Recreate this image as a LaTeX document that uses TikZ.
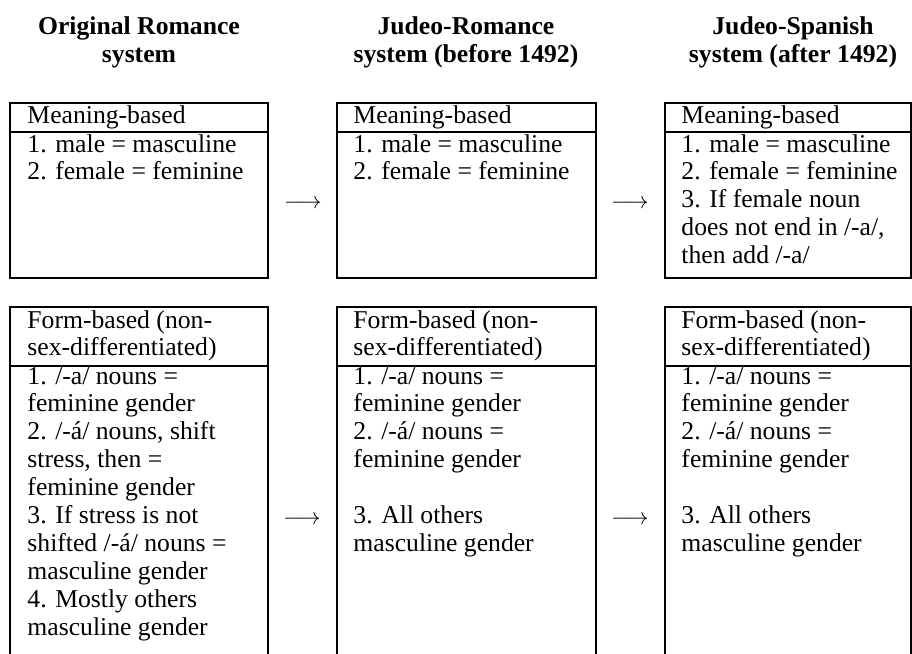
\documentclass[tikz,border=0pt]{standalone}
\usepackage{fontspec}
\setmainfont{Liberation Serif}
\newcommand{\cellrows}[1]{\begin{tabular}[t]{@{}l@{}}#1\end{tabular}}
\newcommand{\headrows}[1]{\begin{tabular}[t]{@{}c@{}}#1\end{tabular}}
\newcommand{\pxunit}{0.4286pt}
\begin{document}
\begin{tikzpicture}[x=0.4286pt,y=-0.4286pt,
  cell/.style={draw,line width=0.45pt,inner sep=0pt,outer sep=0pt,anchor=north west},
  txt/.style={anchor=base west,inner sep=0pt,font=\fontsize{11}{12}\selectfont},
  head/.style={anchor=base,inner sep=0pt,font=\fontsize{11}{12}\selectfont\bfseries},
  arr/.style={inner sep=0pt,font=\fontsize{10}{12}\selectfont},
  rule/.style={line width=0.45pt}]
\clip (0,0) rectangle (912,654);
% headings
\node[head] (h1) at (139,35) {\headrows{Original Romance\\system}};
\node[head] (h2) at (466,35) {\headrows{Judeo-Romance\\system (before 1492)}};
\node[head] (h3) at (793,35) {\headrows{Judeo-Spanish\\system (after 1492)}};
% top boxes
\node[cell,minimum width=258*\pxunit,minimum height=175*\pxunit] (t1) at (10,103) {};
\node[cell,minimum width=259*\pxunit,minimum height=175*\pxunit] (t2) at (337,103) {};
\node[cell,minimum width=246*\pxunit,minimum height=175*\pxunit] (t3) at (665,103) {};
\draw[rule] (t1.north west) ++(0,29) coordinate (t1l) -- (t1l -| t1.east);
\draw[rule] (t2.north west) ++(0,29) coordinate (t2l) -- (t2l -| t2.east);
\draw[rule] (t3.north west) ++(0,29) coordinate (t3l) -- (t3l -| t3.east);
% bottom boxes (run past the lower edge)
\node[cell,minimum width=258*\pxunit,minimum height=360*\pxunit] (b1) at (10,307) {};
\node[cell,minimum width=259*\pxunit,minimum height=360*\pxunit] (b2) at (337,307) {};
\node[cell,minimum width=246*\pxunit,minimum height=360*\pxunit] (b3) at (665,307) {};
\draw[rule] (b1.north west) ++(0,59) coordinate (b1l) -- (b1l -| b1.east);
\draw[rule] (b2.north west) ++(0,59) coordinate (b2l) -- (b2l -| b2.east);
\draw[rule] (b3.north west) ++(0,59) coordinate (b3l) -- (b3l -| b3.east);
% top texts
\node[txt] (t1h) at (27,123) {Meaning-based};
\node[txt] (t2h) at (353,123) {Meaning-based};
\node[txt] (t3h) at (681,123) {Meaning-based};
\node[txt] (t1b) at (27,152) {\cellrows{1. male = masculine\\2. female = feminine}};
\node[txt] (t2b) at (353,152) {\cellrows{1. male = masculine\\2. female = feminine}};
\node[txt] (t3b) at (681,152) {\cellrows{1. male = masculine\\2. female = feminine\\3. If female noun\\does not end in /-a/,\\then add /-a/}};
% bottom texts
\node[txt] (b1h) at (27,328) {\cellrows{Form-based (non-\\sex-differentiated)}};
\node[txt] (b2h) at (353,328) {\cellrows{Form-based (non-\\sex-differentiated)}};
\node[txt] (b3h) at (681,328) {\cellrows{Form-based (non-\\sex-differentiated)}};
\node[txt] (b1b) at (27,384) {\cellrows{1. /-a/ nouns =\\feminine gender\\2. /-á/ nouns, shift\\stress, then =\\feminine gender\\3. If stress is not\\shifted /-á/ nouns =\\masculine gender\\4. Mostly others\\masculine gender}};
\node[txt] (b2b) at (353,384) {\cellrows{1. /-a/ nouns =\\feminine gender\\2. /-á/ nouns =\\feminine gender\\[12pt]3. All others\\masculine gender}};
\node[txt] (b3b) at (681,384) {\cellrows{1. /-a/ nouns =\\feminine gender\\2. /-á/ nouns =\\feminine gender\\[12pt]3. All others\\masculine gender}};
% arrows
\node[arr] (a1) at (303,204) {$\longrightarrow$};
\node[arr] (a2) at (630,204) {$\longrightarrow$};
\node[arr] (a3) at (302,520) {$\longrightarrow$};
\node[arr] (a4) at (630,520) {$\longrightarrow$};
\end{tikzpicture}
\end{document}
